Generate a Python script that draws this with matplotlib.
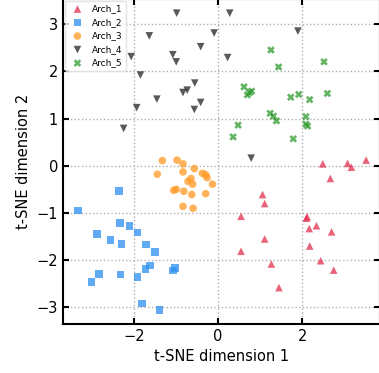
import matplotlib
matplotlib.use("Agg")
import matplotlib.pyplot as plt
import numpy as np

# t-SNE coordinates, one pair of arrays per archetype
arch1_x = [2.49, 3.08, 3.17, 3.52, 2.67, 1.06, 1.11, 0.55, 2.10, 2.12, 2.34, 2.17,
           2.70, 1.11, 2.18, 0.55, 2.44, 1.27, 2.75, 1.45]
arch1_y = [0.04, 0.05, -0.03, 0.12, -0.27, -0.61, -0.80, -1.07, -1.11, -1.08, -1.27, -1.33,
           -1.40, -1.55, -1.70, -1.81, -2.01, -2.08, -2.21, -2.58]

arch2_x = [-2.35, -3.33, -2.33, -2.10, -1.91, -2.87, -2.55, -2.29, -1.71, -1.49,
           -1.62, -1.72, -1.02, -1.06, -2.83, -2.31, -1.91, -3.00, -1.80, -1.39]
arch2_y = [-0.54, -0.95, -1.21, -1.28, -1.41, -1.45, -1.57, -1.66, -1.67, -1.82,
           -2.11, -2.18, -2.17, -2.22, -2.29, -2.30, -2.36, -2.46, -2.92, -3.05]

arch3_x = [-1.32, -0.97, -0.83, -0.56, -1.44, -0.83, -0.37, -0.29, -0.26, -0.13,
           -0.64, -0.71, -0.60, -1.05, -0.99, -0.81, -0.62, -0.29, -0.83, -0.59]
arch3_y = [0.11, 0.12, 0.04, -0.06, -0.18, -0.13, -0.16, -0.19, -0.25, -0.39,
           -0.27, -0.33, -0.39, -0.52, -0.50, -0.54, -0.61, -0.59, -0.86, -0.90]

arch4_x = [-0.98, -1.63, -0.09, -0.41, -2.06, -1.07, -0.99, -1.84, -0.55, -0.73,
           -0.83, -1.45, -0.41, -1.93, -0.56, -2.24, 0.28, 1.90, 0.23, 0.79]
arch4_y = [3.23, 2.75, 2.81, 2.52, 2.31, 2.35, 2.20, 1.92, 1.75, 1.60,
           1.55, 1.41, 1.34, 1.23, 1.19, 0.79, 3.23, 2.85, 2.29, 0.16]

arch5_x = [1.26, 2.52, 1.44, 0.62, 0.70, 0.75, 0.80, 1.73, 1.92, 2.18,
           2.60, 1.24, 1.32, 1.39, 2.09, 2.09, 2.13, 0.48, 0.36, 1.79]
arch5_y = [2.45, 2.20, 2.09, 1.67, 1.50, 1.55, 1.58, 1.45, 1.51, 1.40,
           1.53, 1.11, 1.05, 0.95, 1.04, 0.88, 0.84, 0.86, 0.61, 0.57]

series = [
    ("Arch_1", arch1_x, arch1_y, "^", "#e0304f"),
    ("Arch_2", arch2_x, arch2_y, "s", "#2b8ff0"),
    ("Arch_3", arch3_x, arch3_y, "o", "#ff9922"),
    ("Arch_4", arch4_x, arch4_y, "v", "#222222"),
    ("Arch_5", arch5_x, arch5_y, "X", "#2e9a2e"),
]

fig = plt.figure(figsize=(3.79, 3.73), dpi=100)
ax = fig.add_axes([63 / 379, 49 / 373, 317 / 379, 325 / 373])

for name, xs, ys, mk, col in series:
    ax.scatter(xs, ys, marker=mk, color=col, s=30, alpha=0.75,
               edgecolors="none", label=name, zorder=3)

ax.set_xlim(-3.68, 3.85)
ax.set_ylim(-3.35, 3.53)
ax.set_xticks([-2, 0, 2])
ax.set_yticks([-3, -2, -1, 0, 1, 2, 3])
ax.grid(True, linestyle=":", color="#b0b0b0", linewidth=1.0, zorder=0)
ax.tick_params(direction="in", top=True, right=True, length=4, width=1.5,
               labelsize=10.5)
for sp in ax.spines.values():
    sp.set_linewidth(1.5)

ax.set_xlabel("t-SNE dimension 1", fontsize=10.5)
ax.set_ylabel("t-SNE dimension 2", fontsize=10.5)
ax.legend(loc="upper left", fontsize=6.5, frameon=True, framealpha=0.8,
          edgecolor="#dddddd", borderaxespad=0.2, handletextpad=0.6,
          labelspacing=0.5)

fig.savefig("out.png", dpi=100)
